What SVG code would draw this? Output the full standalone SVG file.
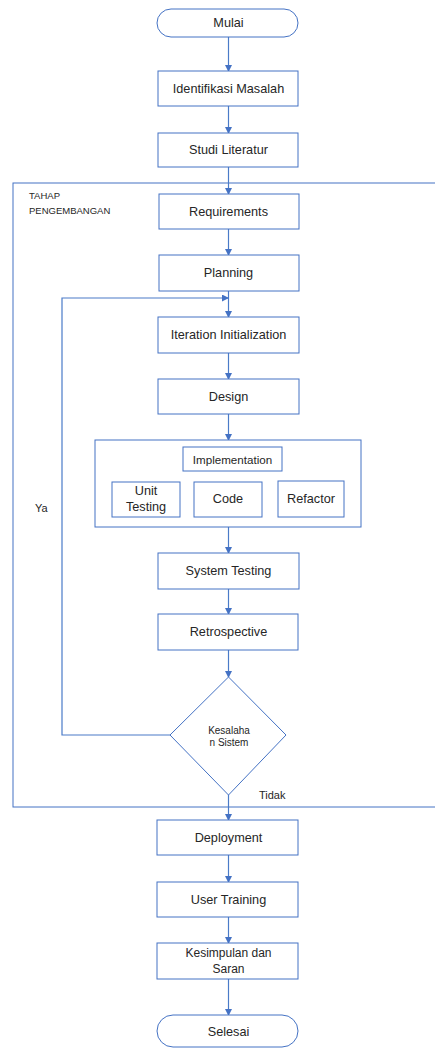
<svg xmlns="http://www.w3.org/2000/svg" width="435" height="1048" viewBox="0 0 435 1048">
<style>
.n{fill:#fff;stroke:#4472c4;stroke-width:1}
.t{font-family:"Liberation Sans",Arial,sans-serif;font-size:12.7px;fill:#262626;text-anchor:middle;dominant-baseline:central}
.s{font-family:"Liberation Sans",Arial,sans-serif;fill:#262626}
.c{fill:none;stroke:#4a7bc8;stroke-width:1.2}
</style>
<defs>
<marker id="ah" markerUnits="userSpaceOnUse" markerWidth="7" markerHeight="7" refX="6" refY="3.5" orient="auto">
<path d="M0,0 L7,3.5 L0,7 z" fill="#4472c4"/>
</marker>
</defs>
<rect width="435" height="1048" fill="#fff"/>
<g id="frame">
<rect x="13" y="183" width="440" height="624" fill="none" stroke="#4472c4" stroke-width="1"/>
<text class="s" x="29" y="199" font-size="9.5">TAHAP</text>
<text class="s" x="29" y="214" font-size="9.5">PENGEMBANGAN</text>
</g>
<g id="connectors">
<line class="c" x1="228.5" y1="37" x2="228.5" y2="71" marker-end="url(#ah)"/>
<line class="c" x1="228.5" y1="106" x2="228.5" y2="133" marker-end="url(#ah)"/>
<line class="c" x1="228.5" y1="167" x2="228.5" y2="194" marker-end="url(#ah)"/>
<line class="c" x1="228.5" y1="229" x2="228.5" y2="255" marker-end="url(#ah)"/>
<line class="c" x1="228.5" y1="291" x2="228.5" y2="317" marker-end="url(#ah)"/>
<line class="c" x1="228.5" y1="353" x2="228.5" y2="379" marker-end="url(#ah)"/>
<line class="c" x1="228.5" y1="414" x2="228.5" y2="440" marker-end="url(#ah)"/>
<line class="c" x1="228.5" y1="527" x2="228.5" y2="553" marker-end="url(#ah)"/>
<line class="c" x1="228.5" y1="589" x2="228.5" y2="614" marker-end="url(#ah)"/>
<line class="c" x1="228.5" y1="650" x2="228.5" y2="677" marker-end="url(#ah)"/>
<line class="c" x1="228.5" y1="795" x2="228.5" y2="820" marker-end="url(#ah)"/>
<line class="c" x1="228.5" y1="855" x2="228.5" y2="882" marker-end="url(#ah)"/>
<line class="c" x1="228.5" y1="917" x2="228.5" y2="943" marker-end="url(#ah)"/>
<line class="c" x1="228.5" y1="979" x2="228.5" y2="1015" marker-end="url(#ah)"/>
<line class="c" x1="180" y1="499" x2="194" y2="499" marker-end="url(#ah)"/>
<line class="c" x1="262" y1="498" x2="278" y2="498" marker-end="url(#ah)"/>
<polyline class="c" points="170,735 62,735 62,298 228,298" marker-end="url(#ah)"/>
<text class="s" x="35" y="512" font-size="11">Ya</text>
<text class="s" x="259" y="799" font-size="11">Tidak</text>
</g>
<g id="mulai"><rect class="n" x="157" y="9" width="141" height="28" rx="14"/><text class="t" x="228.5" y="23">Mulai</text></g>
<g id="identifikasi"><rect class="n" x="158" y="71" width="140" height="35"/><text class="t" x="228.5" y="89">Identifikasi Masalah</text></g>
<g id="studi"><rect class="n" x="158" y="133" width="140" height="34"/><text class="t" x="228.5" y="150">Studi Literatur</text></g>
<g id="requirements"><rect class="n" x="159" y="194" width="140" height="35"/><text class="t" x="228.5" y="212">Requirements</text></g>
<g id="planning"><rect class="n" x="159" y="255" width="140" height="36"/><text class="t" x="228.5" y="273">Planning</text></g>
<g id="iteration"><rect class="n" x="158" y="317" width="141" height="36"/><text class="t" x="228.5" y="335">Iteration Initialization</text></g>
<g id="design"><rect class="n" x="158" y="379" width="141" height="35"/><text class="t" x="228.5" y="397">Design</text></g>
<g id="implementation">
<rect class="n" x="95" y="440" width="266" height="87"/>
<rect class="n" x="183" y="447" width="99" height="24"/>
<text class="t" x="232.5" y="459" style="font-size:11.6px">Implementation</text>
</g>
<g id="unittesting"><rect class="n" x="112" y="482" width="68" height="35"/><text class="t" x="146" y="491">Unit</text><text class="t" x="146" y="507">Testing</text></g>
<g id="code"><rect class="n" x="194" y="482" width="68" height="35"/><text class="t" x="228" y="499">Code</text></g>
<g id="refactor"><rect class="n" x="278" y="481" width="66" height="36"/><text class="t" x="311" y="499">Refactor</text></g>
<g id="systemtesting"><rect class="n" x="158" y="553" width="141" height="36"/><text class="t" x="228.5" y="571">System Testing</text></g>
<g id="retrospective"><rect class="n" x="158" y="614" width="140" height="36"/><text class="t" x="228.5" y="632">Retrospective</text></g>
<g id="kesalahan"><polygon class="n" points="228.5,677 286,735 228.5,795 170,735"/><text class="t" x="229" y="730" style="font-size:10px">Kesalaha</text><text class="t" x="229" y="742" style="font-size:10px">n Sistem</text></g>
<g id="deployment"><rect class="n" x="157" y="820" width="141" height="35"/><text class="t" x="228.5" y="838">Deployment</text></g>
<g id="usertraining"><rect class="n" x="157" y="882" width="141" height="35"/><text class="t" x="228.5" y="900">User Training</text></g>
<g id="kesimpulan"><rect class="n" x="157" y="943" width="141" height="36"/><text class="t" x="228.5" y="953" style="font-size:12px">Kesimpulan dan</text><text class="t" x="228.5" y="969" style="font-size:12px">Saran</text></g>
<g id="selesai"><rect class="n" x="157" y="1015" width="141" height="32" rx="16"/><text class="t" x="228.5" y="1032">Selesai</text></g>
</svg>
